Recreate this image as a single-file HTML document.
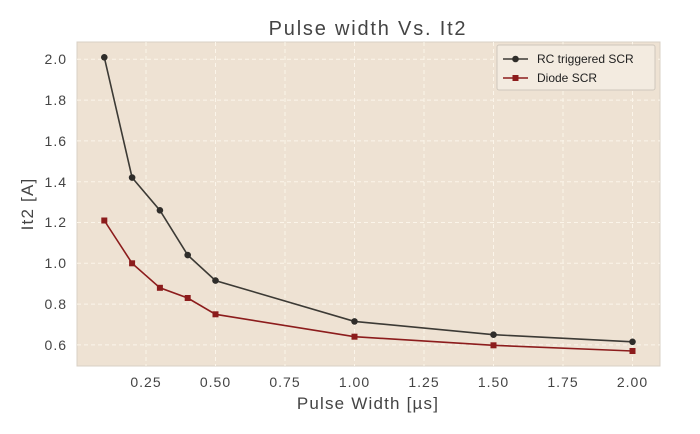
<!DOCTYPE html>
<html><head><meta charset="utf-8"><style>body{margin:0;background:#fff}</style></head><body>
<svg width="700" height="429" xmlns="http://www.w3.org/2000/svg" font-family="Liberation Sans, sans-serif">
<rect x="0" y="0" width="700" height="429" fill="#fff"/>
<rect x="77" y="42" width="583" height="324" fill="#eee2d3" stroke="#d8d0c6" stroke-width="1"/>
<g stroke="#fbf5ea" stroke-width="1" stroke-dasharray="4,3">
<line x1="146" y1="42" x2="146" y2="366"/><line x1="215.5" y1="42" x2="215.5" y2="366"/><line x1="285" y1="42" x2="285" y2="366"/><line x1="354.5" y1="42" x2="354.5" y2="366"/><line x1="424" y1="42" x2="424" y2="366"/><line x1="493.5" y1="42" x2="493.5" y2="366"/><line x1="563" y1="42" x2="563" y2="366"/><line x1="632.5" y1="42" x2="632.5" y2="366"/>
<line x1="77" y1="59.3" x2="660" y2="59.3"/><line x1="77" y1="100.1" x2="660" y2="100.1"/><line x1="77" y1="140.9" x2="660" y2="140.9"/><line x1="77" y1="181.7" x2="660" y2="181.7"/><line x1="77" y1="222.5" x2="660" y2="222.5"/><line x1="77" y1="263.3" x2="660" y2="263.3"/><line x1="77" y1="304.1" x2="660" y2="304.1"/><line x1="77" y1="344.9" x2="660" y2="344.9"/>
</g>
<g font-size="14" fill="#444" text-anchor="end" letter-spacing="1">
<text x="67" y="64">2.0</text><text x="67" y="105">1.8</text><text x="67" y="146">1.6</text><text x="67" y="187">1.4</text><text x="67" y="227">1.2</text><text x="67" y="268">1.0</text><text x="67" y="309">0.8</text><text x="67" y="350">0.6</text>
</g>
<g font-size="14" fill="#444" text-anchor="middle" letter-spacing="1">
<text x="146" y="387">0.25</text><text x="215.5" y="387">0.50</text><text x="285" y="387">0.75</text><text x="354.5" y="387">1.00</text><text x="424" y="387">1.25</text><text x="493.5" y="387">1.50</text><text x="563" y="387">1.75</text><text x="632.5" y="387">2.00</text>
</g>
<text x="368" y="409" font-size="17" fill="#444" text-anchor="middle" letter-spacing="1.2">Pulse Width [µs]</text>
<text x="368" y="35" font-size="20" fill="#444" text-anchor="middle" letter-spacing="1.8">Pulse width Vs. It2</text>
<text transform="translate(33,204) rotate(-90)" font-size="17" fill="#444" text-anchor="middle" letter-spacing="1.2">It2 [A]</text>
<polyline fill="none" stroke="#3c3a35" stroke-width="1.6" points="104.3,57.3 132.1,177.6 159.9,210.3 187.7,255.1 215.5,280.6 354.5,321.4 493.5,334.7 632.5,341.8"/>
<g fill="#2f2d2a"><circle cx="104.3" cy="57.3" r="3.3"/><circle cx="132.1" cy="177.6" r="3.3"/><circle cx="159.9" cy="210.3" r="3.3"/><circle cx="187.7" cy="255.1" r="3.3"/><circle cx="215.5" cy="280.6" r="3.3"/><circle cx="354.5" cy="321.4" r="3.3"/><circle cx="493.5" cy="334.7" r="3.3"/><circle cx="632.5" cy="341.8" r="3.3"/></g>
<polyline fill="none" stroke="#8c1c1c" stroke-width="1.6" points="104.3,220.5 132.1,263.3 159.9,287.8 187.7,298 215.5,314.3 354.5,336.7 493.5,345.3 632.5,351"/>
<g fill="#8c1c1c"><rect x="101.3" y="217.5" width="6" height="6"/><rect x="129.1" y="260.3" width="6" height="6"/><rect x="156.9" y="284.8" width="6" height="6"/><rect x="184.7" y="295" width="6" height="6"/><rect x="212.5" y="311.3" width="6" height="6"/><rect x="351.5" y="333.7" width="6" height="6"/><rect x="490.5" y="342.3" width="6" height="6"/><rect x="629.5" y="348" width="6" height="6"/></g>
<rect x="497" y="45" width="158" height="45" fill="#f3ebe0" stroke="#cfc7bc" rx="2"/>
<line x1="503" y1="59" x2="528" y2="59" stroke="#3c3a35" stroke-width="1.6"/><circle cx="515.5" cy="59" r="3.3" fill="#2f2d2a"/>
<line x1="503" y1="78" x2="528" y2="78" stroke="#8c1c1c" stroke-width="1.6"/><rect x="512.5" y="75" width="6" height="6" fill="#8c1c1c"/>
<text x="537" y="63" font-size="12" fill="#222">RC triggered SCR</text>
<text x="537" y="82" font-size="12" fill="#222">Diode SCR</text>
</svg>
</body></html>
